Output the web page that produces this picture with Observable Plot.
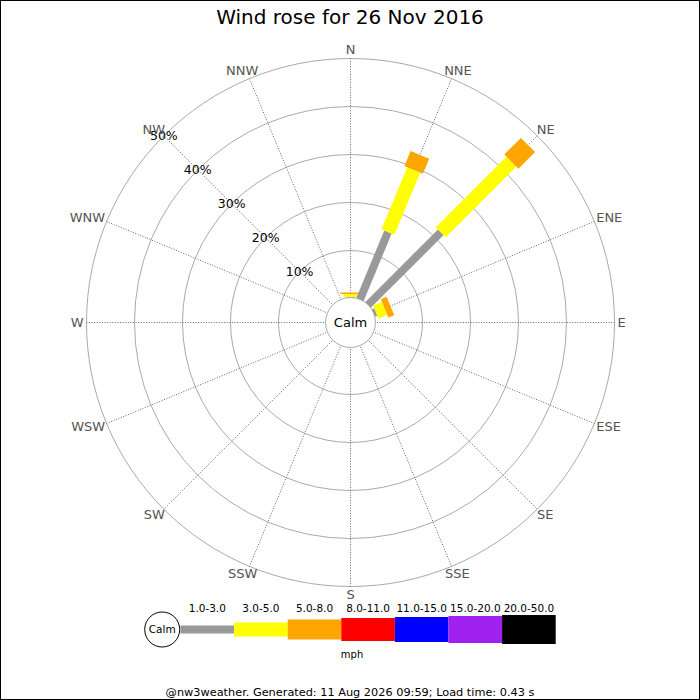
<!DOCTYPE html>
<html>
<head>
<meta charset="utf-8">
<script src="https://cdn.jsdelivr.net/npm/d3@7"></script>
<script src="https://cdn.jsdelivr.net/npm/@observablehq/plot@0.6"></script>
<style>
html,body{margin:0;padding:0;background:#fff;}
body{width:700px;height:700px;position:relative;overflow:hidden;font-family:"DejaVu Sans",sans-serif;}
#title{position:absolute;top:0;left:0;width:700px;height:34px;line-height:34px;text-align:center;font-size:20px;color:#000;}
#rose{position:absolute;top:34px;left:0;}
#legend{position:absolute;top:594px;left:0;}
#footer{position:absolute;top:685px;left:0;width:700px;text-align:center;font-size:11.3px;line-height:16px;color:#000;}
#frame{position:absolute;top:0;left:0;width:700px;height:700px;box-sizing:border-box;border:1px solid #000;pointer-events:none;}
</style>
</head>
<body>
<div id="title">Wind rose for 26 Nov 2016</div>
<div id="rose"></div>
<div id="legend"></div>
<div id="footer">@nw3weather. Generated: 11 Aug 2026 09:59; Load time: 0.43 s</div>
<div id="frame"></div>
<script>
// ---- data ----
const directions = ["N","NNE","NE","ENE","E","ESE","SE","SSE","S","SSW","SW","WSW","W","WNW","NW","NNW"];
const speedClasses = ["1.0-3.0","3.0-5.0","5.0-8.0","8.0-11.0","11.0-15.0","15.0-20.0","20.0-50.0"];
const classColors = ["#999999","#ffff00","#ffa500","#ff0000","#0000ff","#a020f0","#000000"];
// percentage of time per direction, per speed class (mph)
const s1to3   = [0.35, 15.4, 21.6, 0.7, 0,0,0,0,0,0,0,0,0,0,0,0];
const s3to5   = [0.6,  14.0, 20.8, 2.0, 0,0,0,0,0,0,0,0,0,0,0,0];
const s5to8   = [0.3,  3.4,  4.9,  1.3, 0,0,0,0,0,0,0,0,0,0,0,0];
const s8to11  = [0,0,0,0,0,0,0,0,0,0,0,0,0,0,0,0];
const s11to15 = [0,0,0,0,0,0,0,0,0,0,0,0,0,0,0,0];
const s15to20 = [0,0,0,0,0,0,0,0,0,0,0,0,0,0,0,0];
const s20to50 = [0,0,0,0,0,0,0,0,0,0,0,0,0,0,0,0];
const ringTicks = [10,20,30,40,50];
const ringLabels = ["10%","20%","30%","40%","50%"];
const unitLabel = "mph";
const calmLabel = "Calm";

// ---- styles / layout ----
const barWidths = [8,14,20,23,25,27,29];
const PX = 4.8;          // pixels per percent
const CALM = 5;          // calm circle offset (percent units)
const OUTER = CALM + 50;
const W = 700, H = 560, CX = 350, CY = 288;
const LABEL_FONT = 13;
const rad = a => a * Math.PI / 180;

const ctx = document.createElement("canvas").getContext("2d");
ctx.font = `${LABEL_FONT}px "DejaVu Sans"`;
const textW = s => ctx.measureText(s).width;

const seriesValues = [s1to3, s3to5, s5to8, s8to11, s11to15, s15to20, s20to50];
const segments = [];
directions.forEach((dir, i) => {
  let cum = 0;
  speedClasses.forEach((cls, k) => {
    const v = seriesValues[k][i];
    if (v > 0) segments.push({dir, a: i * 22.5, cls, k, r0: CALM + cum, r1: CALM + cum + v});
    cum += v;
  });
});
const dirs = directions.map((d, i) => ({name: d, a: i * 22.5, w: textW(d)}));
const labX = d => OUTER * Math.sin(rad(d.a)) + (d.w / 2 + 3) * Math.sin(rad(d.a)) / PX;
const labY = d => OUTER * Math.cos(rad(d.a)) + 8.5 * Math.cos(rad(d.a)) / PX;

const rose = Plot.plot({
  width: W, height: H,
  marginTop: 0, marginBottom: 0, marginLeft: 0, marginRight: 0,
  x: {domain: [-CX / PX, (W - CX) / PX], range: [0, W], axis: null},
  y: {domain: [-(H - CY) / PX, CY / PX], range: [H, 0], axis: null},
  r: {type: "linear", domain: [0, 1], range: [0, PX]},
  color: {domain: speedClasses, range: classColors},
  style: {fontFamily: "DejaVu Sans, sans-serif", background: "transparent", overflow: "visible"},
  marks: [
    Plot.dot(ringTicks, {x: () => 0, y: () => 0, r: d => CALM + d, stroke: "#aaaaaa", fill: "none", strokeWidth: 1}),
    Plot.link(dirs, {
      x1: d => CALM * Math.sin(rad(d.a)), y1: d => CALM * Math.cos(rad(d.a)),
      x2: d => OUTER * Math.sin(rad(d.a)), y2: d => OUTER * Math.cos(rad(d.a)),
      stroke: "#555", strokeWidth: 0.9, strokeDasharray: "1,1.6"
    }),
    Plot.link(segments, {
      x1: d => d.r0 * Math.sin(rad(d.a)), y1: d => d.r0 * Math.cos(rad(d.a)),
      x2: d => d.r1 * Math.sin(rad(d.a)), y2: d => d.r1 * Math.cos(rad(d.a)),
      stroke: "cls", strokeWidth: d => barWidths[d.k], strokeLinecap: "butt", strokeOpacity: 1
    }),
    Plot.dot([calmLabel], {x: () => 0, y: () => 0, r: () => CALM + 0.2, fill: "white", stroke: "#aaaaaa", strokeWidth: 1}),
    Plot.text([calmLabel], {x: () => 0, y: () => 0, text: d => d, fontSize: 13, fill: "#000"}),
    Plot.text(ringTicks, {
      x: d => (CALM + d) * Math.sin(rad(315)), y: d => (CALM + d) * Math.cos(rad(315)),
      text: (d, i) => ringLabels[i], fontSize: 12.5, fill: "#000"
    }),
    Plot.text(dirs, {x: labX, y: labY, text: "name", textAnchor: "middle", fontSize: LABEL_FONT, fill: "#555"})
  ]
});
document.getElementById("rose").appendChild(rose);

// ---- legend ----
const LW = 700, LH = 106, SEG = 53.6, X0 = 180, BAR_Y = 35;
const legendItems = speedClasses.map((cls, k) => ({cls, k}));
const legend = Plot.plot({
  width: LW, height: LH,
  marginTop: 0, marginBottom: 0, marginLeft: 0, marginRight: 0,
  x: {domain: [-X0 / SEG, (LW - X0) / SEG], range: [0, LW], axis: null},
  y: {domain: [0, LH], range: [0, LH], axis: null},
  color: {domain: speedClasses, range: classColors},
  style: {fontFamily: "DejaVu Sans, sans-serif", background: "transparent", overflow: "visible"},
  marks: [
    Plot.link(legendItems, {
      x1: d => d.k, x2: d => d.k + 1, y1: () => BAR_Y, y2: () => BAR_Y,
      stroke: "cls", strokeWidth: d => barWidths[d.k], strokeLinecap: "butt"
    }),
    Plot.dot([calmLabel], {x: () => -18.3 / SEG, y: () => BAR_Y, r: 17.5, fill: "white", stroke: "#000", strokeWidth: 1}),
    Plot.text([calmLabel], {x: () => -18.3 / SEG, y: () => BAR_Y, text: d => d, fontSize: 10.5, fill: "#000"}),
    Plot.text(legendItems, {x: d => d.k + 0.5, y: () => 13.7, text: "cls", fontSize: 10.5, fill: "#000"}),
    Plot.text([unitLabel], {x: () => speedClasses.length / 2 - 0.3, y: () => 60, text: d => d, fontSize: 10, fill: "#000"})
  ]
});
document.getElementById("legend").appendChild(legend);
</script>
</body>
</html>
